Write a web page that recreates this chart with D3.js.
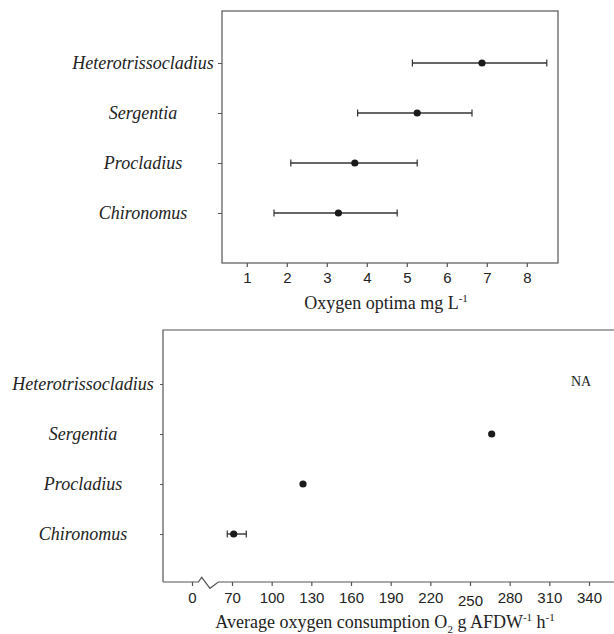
<!DOCTYPE html>
<html>
<head>
<meta charset="utf-8">
<script src="https://cdn.jsdelivr.net/npm/d3@7"></script>
<style>
  html, body { margin: 0; padding: 0; background: #fff; }
  svg { display: block; }
  .tick text { font-family: "Liberation Sans", Arial, sans-serif; font-size: 15px; fill: #222; }
  .cat { font-family: "Liberation Serif", "Times New Roman", serif; font-style: italic; font-size: 18px; fill: #222; }
  .axlabel { font-family: "Liberation Serif", "Times New Roman", serif; font-size: 18px; fill: #222; }
</style>
</head>
<body>
<svg id="chart" width="614" height="634"></svg>
<script>
// ---- data ----
const categories = ["Chironomus", "Procladius", "Sergentia", "Heterotrissocladius"];

const optimaMean = [3.29, 3.70, 5.26, 6.88];
const optimaLow  = [1.68, 2.10, 3.77, 5.14];
const optimaHigh = [4.76, 5.26, 6.63, 8.50];
const optimaTicks = [1, 2, 3, 4, 5, 6, 7, 8];

const consumptionMean = [71.3, 123.7, 266.4, null];
const consumptionLow  = [61.7, null, null, null];
const consumptionHigh = [80.8, null, null, null];
const consumptionTicks = [0, 70, 100, 130, 160, 190, 220, 250, 280, 310, 340];
const naLabel = "NA";

const svg = d3.select("#chart");
const axisColor = "#555";
const markColor = "#1a1a1a";

// ================= TOP PANEL =================
const t = { left: 222, right: 558, top: 11, bottom: 263 };
const xTop = d3.scaleLinear().domain([0.38, 8.78]).range([t.left, t.right]);
const yTop = d3.scalePoint().domain(categories).range([213, 63]);

const gTop = svg.append("g");
gTop.append("rect")
  .attr("x", t.left).attr("y", t.top)
  .attr("width", t.right - t.left).attr("height", t.bottom - t.top)
  .attr("fill", "none").attr("stroke", axisColor).attr("stroke-width", 1.2);

const xAxisTop = gTop.append("g")
  .attr("transform", `translate(0,${t.bottom})`)
  .call(d3.axisBottom(xTop).tickValues(optimaTicks).tickSize(4).tickSizeOuter(0).tickPadding(5));
xAxisTop.select(".domain").remove();
xAxisTop.selectAll(".tick line").attr("stroke", axisColor).attr("stroke-width", 1.2);

const yAxisTop = gTop.append("g")
  .attr("transform", `translate(${t.left},0)`)
  .call(d3.axisLeft(yTop).tickSize(4).tickFormat(""));
yAxisTop.select(".domain").remove();
yAxisTop.selectAll(".tick line").attr("stroke", axisColor).attr("stroke-width", 1);

gTop.selectAll("text.cat").data(categories).join("text")
  .attr("class", "cat")
  .attr("x", 143).attr("y", d => yTop(d))
  .attr("dy", "0.32em").attr("text-anchor", "middle")
  .text(d => d);

// error bars
const capH = 3.5;
categories.forEach((c, i) => {
  const y = yTop(c);
  gTop.append("line")
    .attr("x1", xTop(optimaLow[i])).attr("x2", xTop(optimaHigh[i]))
    .attr("y1", y).attr("y2", y)
    .attr("stroke", "#333").attr("stroke-width", 1.4);
  [optimaLow[i], optimaHigh[i]].forEach(v => {
    gTop.append("line")
      .attr("x1", xTop(v)).attr("x2", xTop(v))
      .attr("y1", y - capH).attr("y2", y + capH)
      .attr("stroke", "#333").attr("stroke-width", 1.2);
  });
  gTop.append("circle")
    .attr("cx", xTop(optimaMean[i])).attr("cy", y).attr("r", 3.6)
    .attr("fill", markColor);
});

const lblTop = gTop.append("text").attr("class", "axlabel")
  .attr("x", 386).attr("y", 309).attr("text-anchor", "middle");
lblTop.append("tspan").text("Oxygen optima mg L");
lblTop.append("tspan").attr("font-size", "11px").attr("dy", "-7").text("-1");

// ================= BOTTOM PANEL =================
const b = { left: 163, right: 614, top: 330, bottom: 582 };
const xBot = d3.scaleLinear().domain([0, 70, 340]).range([192, 232, 589]);
const yBot = d3.scalePoint().domain(categories).range([534, 384]);

const gBot = svg.append("g");
// left and top frame lines
gBot.append("path")
  .attr("d", `M${b.left},${b.bottom}V${b.top}H${b.right + 2}`)
  .attr("fill", "none").attr("stroke", axisColor).attr("stroke-width", 1.2);
// bottom axis with break
const brk0 = 198.3, brk1 = 218.3;
gBot.append("path")
  .attr("d", `M${b.left},${b.bottom}H${brk0}L201.7,577.3L210,588.3L${brk1},${b.bottom}H${b.right + 2}`)
  .attr("fill", "none").attr("stroke", axisColor).attr("stroke-width", 1.2);

const xAxisBot = gBot.append("g")
  .attr("transform", `translate(0,${b.bottom})`)
  .call(d3.axisBottom(xBot).tickValues(consumptionTicks).tickFormat(d3.format("d"))
    .tickSize(4).tickSizeOuter(0).tickPadding(6));
xAxisBot.select(".domain").remove();
xAxisBot.selectAll(".tick line").attr("stroke", axisColor).attr("stroke-width", 1.2);
xAxisBot.selectAll(".tick text").attr("dy", d => d === 250 ? "0.92em" : "0.71em");

const yAxisBot = gBot.append("g")
  .attr("transform", `translate(${b.left},0)`)
  .call(d3.axisLeft(yBot).tickSize(3).tickFormat(""));
yAxisBot.select(".domain").remove();
yAxisBot.selectAll(".tick line").attr("stroke", axisColor).attr("stroke-width", 1);

gBot.selectAll("text.cat").data(categories).join("text")
  .attr("class", "cat")
  .attr("x", 83).attr("y", d => yBot(d))
  .attr("dy", "0.32em").attr("text-anchor", "middle")
  .text(d => d);

categories.forEach((c, i) => {
  const y = yBot(c);
  if (consumptionLow[i] != null) {
    gBot.append("line")
      .attr("x1", xBot(consumptionLow[i])).attr("x2", xBot(consumptionHigh[i]))
      .attr("y1", y).attr("y2", y)
      .attr("stroke", "#333").attr("stroke-width", 1.4);
    [consumptionLow[i], consumptionHigh[i]].forEach(v => {
      gBot.append("line")
        .attr("x1", xBot(v)).attr("x2", xBot(v))
        .attr("y1", y - capH).attr("y2", y + capH)
        .attr("stroke", "#333").attr("stroke-width", 1.2);
    });
  }
  if (consumptionMean[i] != null) {
    gBot.append("circle")
      .attr("cx", xBot(consumptionMean[i])).attr("cy", y).attr("r", 3.6)
      .attr("fill", markColor);
  } else {
    gBot.append("text")
      .attr("x", 581).attr("y", y - 2.5).attr("dy", "0.35em")
      .attr("text-anchor", "middle")
      .attr("font-family", "Liberation Serif, Times New Roman, serif")
      .attr("font-size", "14px").attr("fill", "#222")
      .text(naLabel);
  }
});

const lblBot = gBot.append("text").attr("class", "axlabel")
  .attr("x", 385).attr("y", 628).attr("text-anchor", "middle");
lblBot.append("tspan").text("Average oxygen consumption O");
lblBot.append("tspan").attr("font-size", "11px").attr("dy", "5").text("2");
lblBot.append("tspan").attr("dy", "-5").text(" g AFDW");
lblBot.append("tspan").attr("font-size", "11px").attr("dy", "-7").text("-1");
lblBot.append("tspan").attr("dy", "7").text(" h");
lblBot.append("tspan").attr("font-size", "11px").attr("dy", "-7").text("-1");
</script>
</body>
</html>
